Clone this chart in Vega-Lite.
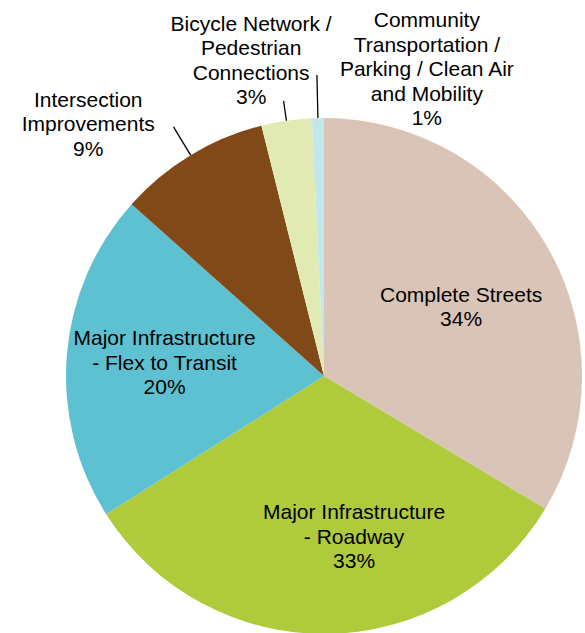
{
  "$schema": "https://vega.github.io/schema/vega-lite/v6.json",
  "width": 516,
  "height": 516,
  "autosize": {"type": "none"},
  "padding": {"left": 66, "top": 118, "right": 3, "bottom": 0},
  "background": "white",
  "config": {"view": {"stroke": null}},
  "data": {
    "values": [
      {"category": "Complete Streets", "value": 33.6, "order": 1, "label": "Complete Streets\n34%"},
      {"category": "Major Infrastructure - Roadway", "value": 32.4, "order": 2, "label": "Major Infrastructure\n- Roadway\n33%"},
      {"category": "Major Infrastructure - Flex to Transit", "value": 20.6, "order": 3, "label": "Major Infrastructure\n- Flex to Transit\n20%"},
      {"category": "Intersection Improvements", "value": 9.5, "order": 4, "label": "Intersection\nImprovements\n9%"},
      {"category": "Bicycle Network / Pedestrian Connections", "value": 3.15, "order": 5, "label": "Bicycle Network /\nPedestrian\nConnections\n3%"},
      {"category": "Community Transportation / Parking / Clean Air and Mobility", "value": 0.75, "order": 6, "label": "Community\nTransportation /\nParking / Clean Air\nand Mobility\n1%"}
    ]
  },
  "transform": [
    {"window": [{"op": "sum", "field": "value", "as": "cum"}], "sort": [{"field": "order"}]},
    {"calculate": "datum.cum - datum.value", "as": "start"},
    {"calculate": "datum.cum - datum.value / 2", "as": "mid"}
  ],
  "layer": [
    {
      "mark": {"type": "arc"},
      "encoding": {
        "theta": {"field": "start", "type": "quantitative", "scale": {"domain": [0, 100]}},
        "theta2": {"field": "cum"},
        "color": {
          "field": "category",
          "type": "nominal",
          "scale": {
            "domain": ["Complete Streets", "Major Infrastructure - Roadway", "Major Infrastructure - Flex to Transit", "Intersection Improvements", "Bicycle Network / Pedestrian Connections", "Community Transportation / Parking / Clean Air and Mobility"],
            "range": ["#DAC4B7", "#AFCA3B", "#5EC1D1", "#824918", "#E1EAB2", "#C3E6EC"]
          },
          "legend": null
        }
      }
    },
    {
      "transform": [{"filter": "datum.order == 4"}],
      "mark": {"type": "arc", "stroke": "black", "strokeWidth": 1.3, "fill": null},
      "encoding": {"theta": {"field": "mid", "type": "quantitative"}, "theta2": {"field": "mid"}, "radius": {"value": 291}, "radius2": {"value": 258}}
    },
    {
      "transform": [{"filter": "datum.order == 5"}],
      "mark": {"type": "arc", "stroke": "black", "strokeWidth": 1.3, "fill": null},
      "encoding": {"theta": {"field": "mid", "type": "quantitative"}, "theta2": {"field": "mid"}, "radius": {"value": 278}, "radius2": {"value": 258}}
    },
    {
      "transform": [{"filter": "datum.order == 6"}],
      "mark": {"type": "arc", "stroke": "black", "strokeWidth": 1.3, "fill": null},
      "encoding": {"theta": {"field": "mid", "type": "quantitative"}, "theta2": {"field": "mid"}, "radius": {"value": 301}, "radius2": {"value": 258}}
    },
    {
      "transform": [{"filter": "datum.order == 1"}],
      "mark": {"type": "text", "font": "Liberation Sans", "fontSize": 21, "lineHeight": 24.5, "lineBreak": "\n", "align": "center", "baseline": "middle", "color": "black", "radius": 153, "dx": 4, "dy": -5},
      "encoding": {"theta": {"field": "mid", "type": "quantitative", "stack": false}, "text": {"field": "label"}}
    },
    {
      "transform": [{"filter": "datum.order == 2"}],
      "mark": {"type": "text", "font": "Liberation Sans", "fontSize": 21, "lineHeight": 24.5, "lineBreak": "\n", "align": "center", "baseline": "middle", "color": "black", "radius": 162, "dx": 28, "dy": -24.5},
      "encoding": {"theta": {"field": "mid", "type": "quantitative", "stack": false}, "text": {"field": "label"}}
    },
    {
      "transform": [{"filter": "datum.order == 3"}],
      "mark": {"type": "text", "font": "Liberation Sans", "fontSize": 21, "lineHeight": 24.5, "lineBreak": "\n", "align": "center", "baseline": "middle", "color": "black", "radius": 160, "dx": 0, "dy": -23.5},
      "encoding": {"theta": {"field": "mid", "type": "quantitative", "stack": false}, "text": {"field": "label"}}
    },
    {
      "transform": [{"filter": "datum.order == 4"}],
      "mark": {"type": "text", "font": "Liberation Sans", "fontSize": 21, "lineHeight": 24.5, "lineBreak": "\n", "align": "center", "baseline": "middle", "color": "black", "radius": 336, "dx": -62, "dy": 12.5},
      "encoding": {"theta": {"field": "mid", "type": "quantitative", "stack": false}, "text": {"field": "label"}}
    },
    {
      "transform": [{"filter": "datum.order == 5"}],
      "mark": {"type": "text", "font": "Liberation Sans", "fontSize": 21, "lineHeight": 24.5, "lineBreak": "\n", "align": "center", "baseline": "middle", "color": "black", "radius": 322, "dx": -26, "dy": -32.75},
      "encoding": {"theta": {"field": "mid", "type": "quantitative", "stack": false}, "text": {"field": "label"}}
    },
    {
      "transform": [{"filter": "datum.order == 6"}],
      "mark": {"type": "text", "font": "Liberation Sans", "fontSize": 21, "lineHeight": 24.5, "lineBreak": "\n", "align": "center", "baseline": "middle", "color": "black", "radius": 303, "dx": 110, "dy": -52},
      "encoding": {"theta": {"field": "mid", "type": "quantitative", "stack": false}, "text": {"field": "label"}}
    }
  ]
}
